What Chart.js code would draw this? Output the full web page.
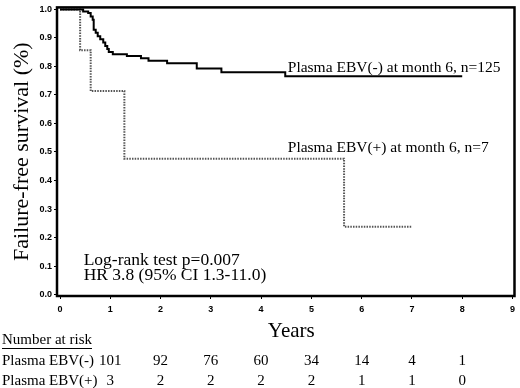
<!DOCTYPE html>
<html><head><meta charset="utf-8">
<script src="https://cdn.jsdelivr.net/npm/chart.js@4.4.1/dist/chart.umd.min.js"></script>
<style>html,body{margin:0;padding:0;background:#fff}#wrap{width:520px;height:388px}</style>
</head><body><div id="wrap"><canvas id="c" width="520" height="388"></canvas></div>
<script>
// Kaplan-Meier step points (time in years, survival after that time)
const negTimes = [0, 0.46, 0.56, 0.61, 0.65, 0.67, 0.71, 0.75, 0.80, 0.86, 0.90, 0.94, 0.97, 1.05, 1.33, 1.61, 1.76, 2.13, 2.72, 3.21, 4.48, 8.0];
const negSurv  = [1.0, 0.993, 0.987, 0.975, 0.964, 0.929, 0.918, 0.906, 0.895, 0.884, 0.872, 0.861, 0.851, 0.843, 0.837, 0.829, 0.820, 0.811, 0.793, 0.780, 0.766, 0.766];
const posTimes = [0, 0.40, 0.61, 1.28, 5.65, 7.0];
const posSurv  = [1.0, 0.857, 0.714, 0.476, 0.238, 0.238];
const xTicks = [0,1,2,3,4,5,6,7,8,9];
const yTicks = [0.0,0.1,0.2,0.3,0.4,0.5,0.6,0.7,0.8,0.9,1.0];
const riskYears = [1,2,3,4,5,6,7,8];
const riskNeg = [101,92,76,60,34,14,4,1];
const riskPos = [3,2,2,2,2,1,1,0];
const groupNames = ['Plasma EBV(-)','Plasma EBV(+)'];
const curveLabels = ['Plasma EBV(-) at month 6, n=125','Plasma EBV(+) at month 6, n=7'];
const statText = ['Log-rank test p=0.007','HR 3.8 (95% CI 1.3-11.0)'];

const SERIF = '"Liberation Serif", "DejaVu Serif", serif';
const toPts = (t, s) => t.map((v,i)=>({x:v,y:s[i]}));

const deco = {
  id:'deco',
  afterDraw(chart){
    const {ctx, chartArea:a, scales:{x,y}} = chart;
    ctx.save();
    // frame
    ctx.strokeStyle='#000'; ctx.lineWidth=2.5;
    ctx.strokeRect(a.left, a.top, a.right-a.left, a.bottom-a.top);
    ctx.fillStyle='#000';
    // curve labels
    ctx.font = '15.5px '+SERIF; ctx.textAlign='left'; ctx.textBaseline='alphabetic';
    ctx.fillText(curveLabels[0], x.getPixelForValue(4.53), y.getPixelForValue(0.782));
    ctx.fillText(curveLabels[1], x.getPixelForValue(4.53), y.getPixelForValue(0.500));
    // stats
    ctx.font = '17.5px '+SERIF;
    ctx.fillText(statText[0], x.getPixelForValue(0.47), y.getPixelForValue(0.105));
    ctx.fillText(statText[1], x.getPixelForValue(0.47), y.getPixelForValue(0.052));
    // y title
    ctx.save();
    ctx.translate(22, (a.top+a.bottom)/2);
    ctx.rotate(-Math.PI/2);
    ctx.font = '22px '+SERIF; ctx.textAlign='center'; ctx.textBaseline='middle';
    ctx.fillText('Failure-free survival (%)', 0, 0);
    ctx.restore();
    // x title
    ctx.font = '21px '+SERIF; ctx.textAlign='center'; ctx.textBaseline='middle';
    ctx.fillText('Years', x.getPixelForValue(4.6), 331);
    // number at risk
    ctx.font = '15px '+SERIF; ctx.textAlign='left'; ctx.textBaseline='middle';
    ctx.fillText('Number at risk', 2, 340);
    const w = ctx.measureText('Number at risk').width;
    ctx.lineWidth=1; ctx.beginPath(); ctx.moveTo(2, 348.5); ctx.lineTo(2+w, 348.5); ctx.stroke();
    ctx.fillText(groupNames[0], 2, 361);
    ctx.fillText(groupNames[1], 2, 381);
    ctx.textAlign='center';
    riskYears.forEach((yr,i)=>{
      const px = x.getPixelForValue(yr);
      ctx.fillText(String(riskNeg[i]), px, 361);
      ctx.fillText(String(riskPos[i]), px, 381);
    });
    ctx.restore();
  }
};

new Chart(document.getElementById('c'), {
  type:'scatter',
  data:{datasets:[
    {data:toPts(negTimes,negSurv), showLine:true, stepped:true, borderColor:'#000', borderWidth:2, pointRadius:0, fill:false},
    {data:toPts(posTimes,posSurv), showLine:true, stepped:true, borderColor:'#555', borderWidth:2, borderDash:[1.5,1.2], pointRadius:0, fill:false}
  ]},
  options:{
    responsive:false, animation:false, devicePixelRatio:1,
    layout:{padding:{top:3,right:3,left:0,bottom:0}},
    plugins:{legend:{display:false}, tooltip:{enabled:false}},
    scales:{
      x:{type:'linear', min:-0.06, max:9.04,
        afterBuildTicks(s){ s.ticks = xTicks.map(v=>({value:v})); },
        afterFit(s){ s.height = 92; },
        ticks:{font:{family:'"Liberation Sans", Arial, sans-serif', size:9, weight:'bold'}, color:'#000', padding:5, maxRotation:0},
        grid:{drawOnChartArea:false, drawTicks:true, tickLength:3, color:'#000'},
        border:{display:false}
      },
      y:{type:'linear', min:-0.005, max:1.007,
        afterBuildTicks(s){ s.ticks = yTicks.map(v=>({value:v})); },
        afterFit(s){ s.width = 57; },
        ticks:{font:{family:'"Liberation Sans", Arial, sans-serif', size:9, weight:'bold'}, color:'#000', padding:2, callback:v=>v.toFixed(1)},
        grid:{drawOnChartArea:false, drawTicks:true, tickLength:3, color:'#000'},
        border:{display:false}
      }
    }
  },
  plugins:[deco]
});
</script></body></html>
